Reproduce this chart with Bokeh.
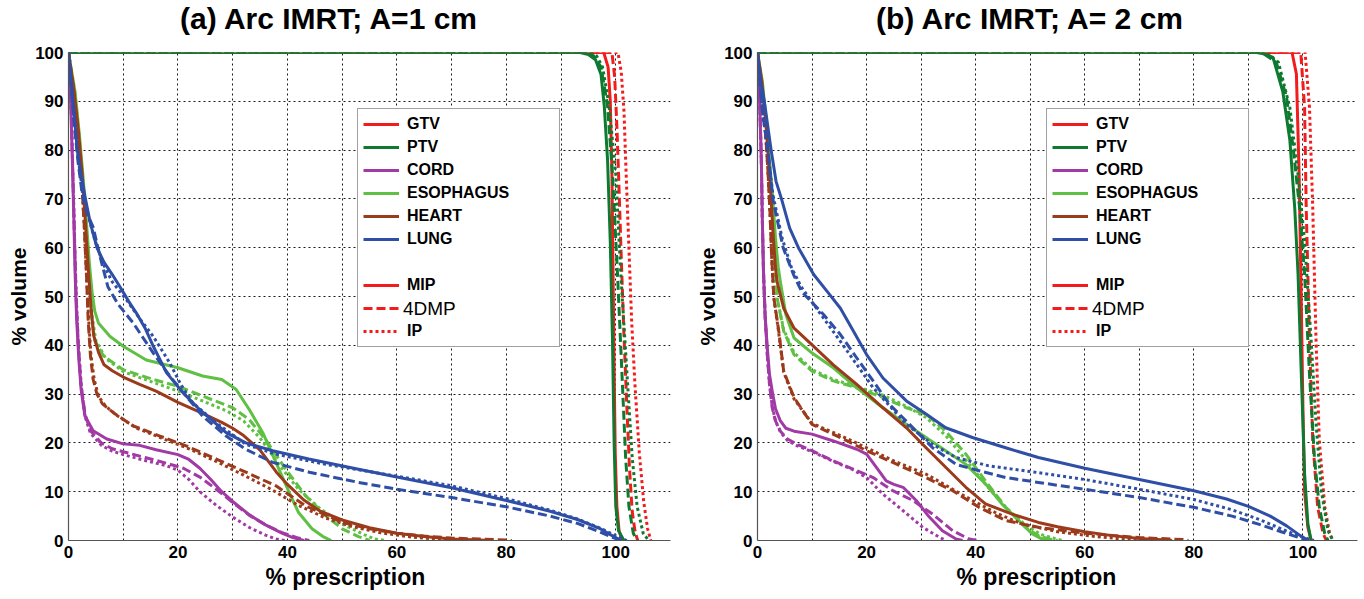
from bokeh.plotting import figure
from bokeh.layouts import row, column
from bokeh.models import Legend, LegendItem, FixedTicker, Range1d, Title, Div
from bokeh.embed import file_html
from bokeh.resources import INLINE

STRUCTURES = ["GTV", "PTV", "CORD", "ESOPHAGUS", "HEART", "LUNG"]
METHODS = ["MIP", "4DMP", "IP"]
X_TICKS = [0, 20, 40, 60, 80, 100]
Y_TICKS = [0, 10, 20, 30, 40, 50, 60, 70, 80, 90, 100]
X_GRID = [0, 10, 20, 30, 40, 50, 60, 70, 80, 90, 100, 110]
TITLES = ["(a) Arc IMRT; A=1 cm", "(b) Arc IMRT; A= 2 cm"]
X_LABEL = "% prescription"
Y_LABEL = "% volume"

# ---------------- panel (a): A = 1 cm  (x = % prescription, y = % volume)
A_GTV_MIP = [(0,100),(97.8,100),(98.6,97),(99.0,90),(99.3,75),(99.5,55),(99.7,35),(99.9,18),(100.2,7),(100.6,2),(101.2,0)]
A_GTV_4DMP = [(0,100),(99.3,100),(99.8,95),(100.2,85),(100.6,72),(101.0,58),(101.5,42),(102.0,28),(102.5,15),(103.0,6),(103.5,2),(104.0,0)]
A_GTV_IP = [(0,100),(100.4,100),(101.0,96),(101.5,88),(101.9,75),(102.4,60),(102.9,45),(103.5,32),(104.3,18),(105.1,8),(105.8,2.5),(106.4,0)]
A_PTV_MIP = [(0,100),(93.5,100),(95,99.6),(96.3,98.5),(97.3,95.5),(97.9,89),(98.5,78),(99.0,61),(99.4,41),(99.7,20),(100.0,7),(100.5,2),(101.5,0)]
A_PTV_4DMP = [(0,100),(94.5,100),(96,99.3),(97.3,97),(98.5,89),(99.4,75),(100.3,55),(101.1,35),(101.8,17),(102.4,7),(103.2,1.5),(103.9,0)]
A_PTV_IP = [(0,100),(95.2,100),(96.5,99.3),(97.6,97),(98.8,89),(100.0,75),(100.9,55),(102.0,35),(103.0,17),(103.9,7),(105.0,1.5),(106.0,0)]
A_CORD_MIP = [(0,100),(0.4,90),(0.7,78),(1.0,65),(1.2,55),(1.5,45),(1.9,37),(2.3,31),(3.0,25.5),(4.5,22.5),(7,20.8),(10,19.8),(13,19.5),(16,18.6),(20,17.6),(22,16.6),(24,14.8),(26,12.5),(28,10),(30,8),(33,5.3),(36,3.2),(39,1.5),(41,0.6),(43,0)]
A_CORD_4DMP = [(0,100),(0.5,88),(0.8,75),(1.1,62),(1.4,50),(1.8,40),(2.3,32),(3.0,26),(4.0,22.5),(6,20),(8,18.8),(10,18.2),(14,17.0),(18,15.8),(21,14.8),(24,13),(27,10.5),(30,7.8),(33,5.2),(36,3.2),(39,1.6),(42,0.5),(44,0)]
A_CORD_IP = [(0,100),(0.5,88),(0.8,75),(1.1,62),(1.4,50),(1.8,40),(2.3,32),(3.0,25.5),(4.0,22),(6,19.5),(8,18.3),(10,17.6),(14,16.4),(18,15.3),(20,14.4),(22,12.5),(24,10),(27,7.2),(30,4.8),(33,2.7),(36,1.1),(38,0.3),(39.5,0)]
A_ESO_MIP = [(0,100),(1.2,92),(2.0,83),(2.7,74),(3.3,65),(3.8,57),(4.3,51),(4.8,47),(5.5,44.5),(7.6,41.8),(10,39.8),(14.2,37),(20,35.4),(24.5,33.7),(28,33),(30.6,31),(33,26.9),(35.5,22.1),(37.9,16),(40.3,9.9),(42,5.8),(44.5,2.4),(46.5,0.8),(48,0)]
A_ESO_4DMP = [(0,100),(1.2,91),(2.0,82),(2.7,72),(3.3,62),(3.8,53),(4.2,46),(4.8,41),(6.4,37.8),(10,35),(15.5,33),(20,31.6),(24.5,29.6),(30,27.2),(33,24.8),(36,20.7),(39.7,14.6),(43.3,9.2),(47,5.1),(50,2.4),(53,0.8),(55,0)]
A_ESO_IP = [(0,100),(1.2,91),(2.0,82),(2.7,72),(3.3,62),(3.8,53),(4.3,46),(5.0,41),(6.8,37.3),(10,34.6),(15.5,32.4),(20,30.6),(24.5,28.6),(29,26.5),(32,24.5),(35,21),(38.5,15.5),(42,10.5),(46,6.5),(50,3.4),(54,1.2),(56,0.3),(58,0)]
A_HEART_MIP = [(0,100),(1.0,92),(1.8,84),(2.5,75),(3.1,65),(3.6,56),(4.1,48),(4.6,42),(5.5,38.5),(6.5,36),(8,34.8),(10,33.5),(13,32),(16,30.6),(20,28.3),(24,26.3),(28,24.2),(30,23),(32,21.5),(35,18.5),(38,14),(40,11.5),(43,8.3),(46,6),(50,4.2),(55,2.6),(60,1.5),(65,0.8),(70,0.3),(75,0.1),(77,0)]
A_HEART_4DMP = [(0,100),(1.0,92),(1.8,83),(2.4,74),(2.9,64),(3.3,54),(3.6,45),(4.0,38),(4.5,33),(5.2,30),(6.2,28),(8.2,26.2),(11.8,23.5),(16.7,21.4),(21.5,19.4),(27,16.7),(32.4,14),(37.9,11.2),(43.3,7.1),(50,3.7),(55,2.4),(60,1.5),(65,0.9),(70,0.5),(75,0.3),(80,0.1),(81,0)]
A_HEART_IP = [(0,100),(1.0,92),(1.8,83),(2.4,74),(2.9,64),(3.3,54),(3.7,45),(4.1,38),(4.7,33),(5.5,29.5),(6.8,27.5),(9,25.5),(12.5,23),(17,21),(22,18.8),(27,16.2),(32,13.4),(37,10.5),(42,7.2),(47,4.6),(52,2.8),(57,1.6),(62,0.8),(67,0.3),(72,0)]
A_LUNG_MIP = [(0,100),(0.5,94),(1.0,88),(1.6,80),(2.3,75),(3.1,70),(4.0,65),(5.2,60),(6.5,57),(8,54.5),(9.4,52),(11,49),(12.4,46.6),(14,43.5),(15.5,39.8),(17.9,34.4),(20.9,30.3),(23.9,26.9),(28.8,22.1),(32.4,20),(37.3,18.4),(43.9,16.7),(53,14.6),(60,13),(70,10.8),(80,8.2),(88,6),(93,4.3),(97,2.5),(99,1.2),(100.5,0.3),(101,0)]
A_LUNG_4DMP = [(0,100),(0.5,93),(1.0,86),(1.7,78),(2.5,71),(3.4,67),(4.5,64.2),(5.8,58),(7.2,52),(9,48.5),(11.8,44.6),(15.5,38.4),(18.5,33.7),(21.5,29.6),(24.5,25.5),(28.8,21.4),(32.4,18.7),(37.3,16),(44,14),(53,11.9),(60,10.5),(70,8.8),(80,6.9),(88,5),(93,3.5),(97,1.8),(99.5,0.6),(101,0)]
A_LUNG_IP = [(0,100),(0.5,93),(1.0,87),(1.7,79),(2.5,72),(3.5,67),(4.7,62),(6.2,57),(8,53),(10.6,49.3),(13,45.5),(15.5,41.8),(18.5,36.4),(20.5,32),(22.7,28.2),(27,24.1),(32.4,19.7),(37.9,17.7),(47,15.6),(53,14.5),(60,13.2),(70,11.2),(80,8.6),(88,6.2),(93,4.4),(97,2.6),(100,1),(102,0)]

# ---------------- panel (b): A = 2 cm
B_GTV_MIP = [(0,100),(98.0,100),(98.8,95.6),(99.3,75),(99.7,48),(100.0,27),(100.3,10),(100.9,2.7),(101.5,0)]
B_GTV_4DMP = [(0,100),(99.6,100),(100.3,88.7),(100.6,68),(101.2,41),(101.8,20.5),(102.7,6.8),(103.7,1.4),(104.3,0)]
B_GTV_IP = [(0,100),(100.4,100),(101.2,88.7),(101.8,68),(102.4,41),(103.0,20.5),(104.0,6.8),(104.9,1.4),(105.5,0)]
B_PTV_MIP = [(0,100),(91.5,100),(93,99.7),(94.5,99),(96.3,92),(97.6,82),(98.5,68),(99.1,54.6),(99.7,34),(100.3,13.7),(100.9,3.4),(101.5,0)]
B_PTV_4DMP = [(0,100),(92.5,100),(95.1,98),(97.0,90.8),(98.2,80.5),(99.4,68),(100.3,54.6),(101.2,34),(102.1,17),(103.0,6.8),(104.0,1.4),(104.6,0)]
B_PTV_IP = [(0,100),(93,100),(95.5,98),(97.6,88.7),(99.1,75),(100.3,61.4),(101.5,41),(102.4,24),(103.4,10),(104.6,2),(105.5,0)]
B_CORD_MIP = [(0,100),(0.4,90),(0.7,78),(0.9,65),(1.1,55),(1.4,46),(1.8,39.5),(2.2,34),(2.7,30.6),(3.3,27),(4.2,24.5),(5.2,23),(6.7,22.4),(10,21.8),(13.9,20.4),(18.2,18.7),(20,17.7),(21.8,15),(23.6,12.2),(25,11.5),(26.7,10.9),(29.1,8.2),(31.5,4.8),(33.9,2),(36.4,0.3),(37.6,0)]
B_CORD_4DMP = [(0,100),(0.4,90),(0.7,78),(0.9,65),(1.1,55),(1.4,46),(1.8,38),(2.2,32),(2.7,27.2),(3.3,24.5),(4.2,22.4),(5.5,20.8),(7.3,19.7),(10,18.4),(13.9,16.3),(18.2,14.3),(21.2,12.9),(24.8,10.2),(28.5,8.2),(32.1,5.4),(35.8,2),(38.8,0.3),(40.6,0)]
B_CORD_IP = [(0,100),(0.4,90),(0.7,78),(0.9,65),(1.1,55),(1.4,46),(1.8,38),(2.2,32),(2.7,27.5),(3.3,24.5),(4.2,22.2),(5.5,20.5),(7.3,19.4),(10,18.2),(13.9,16.2),(17.5,14.5),(20,12.9),(23,9.5),(26.7,6.1),(30.3,2.7),(33.3,0.7),(34.5,0)]
B_ESO_MIP = [(0,100),(0.9,94),(1.6,86),(2.2,78),(2.8,70),(3.3,62),(3.8,56),(4.2,53),(5.2,46.3),(6.7,41.5),(10,38.4),(13.9,35.4),(18.2,31.3),(23,27.2),(27.3,23.8),(30.9,21.1),(34.5,18.4),(38.2,15.6),(41.8,11.6),(44.8,7.5),(47.9,4.1),(50.3,1.4),(52,0.4),(54,0)]
B_ESO_4DMP = [(0,100),(0.9,93),(1.6,85),(2.2,76),(2.7,67),(3.1,58),(3.6,49.7),(4.8,42.9),(6.7,38.1),(10,34.7),(13.9,32.7),(18.2,31.3),(23,29.3),(27.3,27.2),(30.9,25.9),(34.5,22.4),(38.2,17.7),(41.8,12.2),(45.5,6.8),(49.1,2.7),(51.5,1),(53.5,0.3),(55,0)]
B_ESO_IP = [(0,100),(0.9,93),(1.6,85),(2.2,76),(2.7,67),(3.1,58),(3.6,49.7),(4.8,43.2),(6.7,38.5),(10,35),(13.9,33),(18.2,31.5),(23,29.8),(27.3,27.5),(30.9,25.2),(34.5,21.5),(38.2,16.5),(41.8,11.5),(45.5,6.8),(49.1,3.2),(52,1.2),(54.5,0.4),(56,0)]
B_HEART_MIP = [(0,100),(0.8,94),(1.5,86),(2.0,78),(2.5,70),(2.9,62),(3.3,56),(3.6,53),(4.8,47.6),(6.7,43.5),(10,40.1),(13.9,36),(18.2,32),(23,27.2),(27.3,23.1),(30.9,19),(34.5,15),(38.2,10.9),(41.8,7.5),(46.7,5.4),(51.5,3.7),(55,2.8),(60,1.8),(65,1.0),(70,0.4),(75,0.1),(76,0)]
B_HEART_4DMP = [(0,100),(0.8,93),(1.4,85),(1.9,76),(2.3,67),(2.6,58),(3.0,49.7),(3.9,42.9),(4.8,34.7),(6.7,29.3),(10,23.8),(15.2,21.1),(20,18.4),(24.8,16),(30.9,12.9),(35.8,10.2),(40.6,6.8),(45.5,4.1),(51.5,2.7),(60,1.5),(70,0.6),(78,0.2),(79,0)]
B_HEART_IP = [(0,100),(0.8,93),(1.4,85),(1.9,76),(2.3,67),(2.6,58),(3.0,49.7),(3.9,42.5),(4.8,34.5),(6.7,29),(10,24),(15.2,21.5),(20,19),(25,16.3),(30.9,13.6),(35,11),(39.4,8.2),(44,5.5),(48.5,3.4),(55,1.8),(62,0.8),(68,0.2),(70,0)]
B_LUNG_MIP = [(0,100),(0.6,94),(1.25,90),(2.5,80),(3.4,73.6),(4.4,70),(5.9,64),(7.5,60),(10.3,54.5),(12.8,51),(15.2,47.6),(17.6,42.9),(20,38.1),(23,33.3),(27.3,28.6),(30.9,25.9),(34.5,23.1),(39.4,21.1),(45.5,19),(51.5,17),(60,14.8),(70,12.5),(80,10.2),(86,8.5),(90,7),(94,5),(97,3),(99.5,1),(101,0)]
B_LUNG_4DMP = [(0,100),(0.5,93),(1.0,87),(1.9,80),(2.8,70),(4.7,60),(6.6,54.5),(8.1,51),(12.1,46.3),(15.2,42.2),(18.2,37.4),(21.2,32.7),(24.2,27.9),(28.5,23.1),(32.1,19),(36.4,15.6),(40.6,14.3),(45.5,12.9),(51.5,11.9),(60,10.5),(70,8.8),(80,6.8),(87,5),(92,3.3),(96,1.8),(99,0.7),(101,0)]
B_LUNG_IP = [(0,100),(0.5,93),(1.0,87),(1.9,80),(2.8,71),(4.5,62),(6.2,56),(8,52),(11.5,46.5),(15.2,40.8),(21.2,31.3),(27.3,23.8),(32.1,19.7),(36.4,17),(42.4,15.3),(51.5,13.9),(60,12.5),(70,10.5),(80,8.4),(87,6.3),(92,4.3),(96,2.4),(99,1),(102,0)]

PANEL_A = {
    ("GTV", "MIP"): A_GTV_MIP, ("GTV", "4DMP"): A_GTV_4DMP, ("GTV", "IP"): A_GTV_IP,
    ("PTV", "MIP"): A_PTV_MIP, ("PTV", "4DMP"): A_PTV_4DMP, ("PTV", "IP"): A_PTV_IP,
    ("CORD", "MIP"): A_CORD_MIP, ("CORD", "4DMP"): A_CORD_4DMP, ("CORD", "IP"): A_CORD_IP,
    ("ESOPHAGUS", "MIP"): A_ESO_MIP, ("ESOPHAGUS", "4DMP"): A_ESO_4DMP, ("ESOPHAGUS", "IP"): A_ESO_IP,
    ("HEART", "MIP"): A_HEART_MIP, ("HEART", "4DMP"): A_HEART_4DMP, ("HEART", "IP"): A_HEART_IP,
    ("LUNG", "MIP"): A_LUNG_MIP, ("LUNG", "4DMP"): A_LUNG_4DMP, ("LUNG", "IP"): A_LUNG_IP,
}
PANEL_B = {
    ("GTV", "MIP"): B_GTV_MIP, ("GTV", "4DMP"): B_GTV_4DMP, ("GTV", "IP"): B_GTV_IP,
    ("PTV", "MIP"): B_PTV_MIP, ("PTV", "4DMP"): B_PTV_4DMP, ("PTV", "IP"): B_PTV_IP,
    ("CORD", "MIP"): B_CORD_MIP, ("CORD", "4DMP"): B_CORD_4DMP, ("CORD", "IP"): B_CORD_IP,
    ("ESOPHAGUS", "MIP"): B_ESO_MIP, ("ESOPHAGUS", "4DMP"): B_ESO_4DMP, ("ESOPHAGUS", "IP"): B_ESO_IP,
    ("HEART", "MIP"): B_HEART_MIP, ("HEART", "4DMP"): B_HEART_4DMP, ("HEART", "IP"): B_HEART_IP,
    ("LUNG", "MIP"): B_LUNG_MIP, ("LUNG", "4DMP"): B_LUNG_4DMP, ("LUNG", "IP"): B_LUNG_IP,
}

COLORS = {"GTV": "#f21c1c", "PTV": "#0e7a30", "CORD": "#a23aa6",
          "ESOPHAGUS": "#5fc043", "HEART": "#9c3a1c", "LUNG": "#2f4ea6"}
DASHES = {"MIP": "solid", "4DMP": "9 4", "IP": "3 3"}
FONT = "Liberation Sans"


def make_title(text, width, left_pad):
    html = ('<div style="font-family: \'Liberation Sans\', Arial, sans-serif; font-size: 30px; '
            'font-weight: bold; color: black; line-height: 33px; white-space: nowrap; '
            'padding-top: 2px; padding-left: %dpx;">%s</div>' % (left_pad, text))
    return Div(text=html, width=width, height=40, margin=0)


def make_panel(data, width, border_left, border_right, xlabel_off):
    p = figure(width=width, height=558, x_range=Range1d(0, 110), y_range=Range1d(0, 100),
               output_backend="svg", toolbar_location=None,
               min_border_left=border_left, min_border_right=border_right,
               min_border_top=12, min_border_bottom=58)
    p.outline_line_color = None
    p.background_fill_color = "white"

    p.xaxis.ticker = FixedTicker(ticks=X_TICKS)
    p.yaxis.ticker = FixedTicker(ticks=Y_TICKS)
    p.xgrid.ticker = FixedTicker(ticks=X_GRID)
    p.ygrid.ticker = FixedTicker(ticks=Y_TICKS)
    p.grid.grid_line_color = "#1a1a1a"
    p.grid.grid_line_dash = "2 3"
    p.grid.grid_line_width = 1

    p.axis.major_tick_line_color = None
    p.axis.minor_tick_line_color = None
    p.axis.major_tick_out = 0
    p.axis.major_tick_in = 0
    p.axis.minor_tick_out = 0
    p.axis.minor_tick_in = 0
    p.axis.axis_line_color = "#555555"
    p.axis.axis_line_width = 1.2
    p.axis.major_label_text_font = FONT
    p.axis.major_label_text_font_size = "17px"
    p.axis.major_label_text_font_style = "bold"
    p.axis.major_label_text_color = "black"
    p.axis.major_label_standoff = 5
    p.yaxis.axis_label = Y_LABEL
    p.yaxis.axis_label_text_font = FONT
    p.yaxis.axis_label_text_font_style = "bold"
    p.yaxis.axis_label_text_color = "black"
    p.yaxis.axis_label_text_font_size = "21px"
    p.yaxis.axis_label_standoff = 2

    # x-axis label as a Title below the axis, shifted left like the original
    p.add_layout(Title(text=X_LABEL, align="left", offset=xlabel_off, standoff=2,
                       text_font=FONT, text_font_size="23px", text_font_style="bold",
                       text_color="black"), "below")

    rends = {}
    for s in STRUCTURES:
        for m in METHODS:
            pts = data[(s, m)]
            xs = [pt[0] for pt in pts]
            ys = [pt[1] for pt in pts]
            rends[(s, m)] = p.line(xs, ys, line_color=COLORS[s], line_width=3,
                                   line_dash=DASHES[m], line_join="round")

    blank = p.line([], [], line_alpha=0)
    items = [LegendItem(label=s, renderers=[rends[(s, "MIP")]]) for s in STRUCTURES]
    items.append(LegendItem(label=" ", renderers=[blank]))
    for m in METHODS:
        # the "4DMP" text is drawn by a second, plain-weight legend on top
        items.append(LegendItem(label=(m if m != "4DMP" else " "), renderers=[rends[("GTV", m)]]))
    common = dict(padding=5, margin=0, spacing=3, glyph_width=36, glyph_height=20,
                  label_height=20, label_standoff=8, label_text_font=FONT,
                  label_text_color="black")
    legend = Legend(items=items, location=(289, 193), label_width=147,
                    label_text_font_size="16px", label_text_font_style="bold",
                    border_line_color="#444444", border_line_width=1.2,
                    background_fill_color="white", background_fill_alpha=1.0, **common)
    p.add_layout(legend)
    legend2 = Legend(items=[LegendItem(label="4DMP", renderers=[blank])], location=(291, 220),
                     label_width=60, label_text_font_size="19px", label_text_font_style="normal",
                     border_line_color=None, background_fill_alpha=0.0, **common)
    p.add_layout(legend2)
    return p


ta = make_title(TITLES[0], 690, 180)
tb = make_title(TITLES[1], 672, 186)
pa = make_panel(PANEL_A, 690, 68, 20, 197)
pb = make_panel(PANEL_B, 672, 67, 5, 199)
layout = column(row(ta, tb, spacing=0), row(pa, pb, spacing=0), spacing=0)
open("out.html", "w").write(file_html(layout, INLINE))
